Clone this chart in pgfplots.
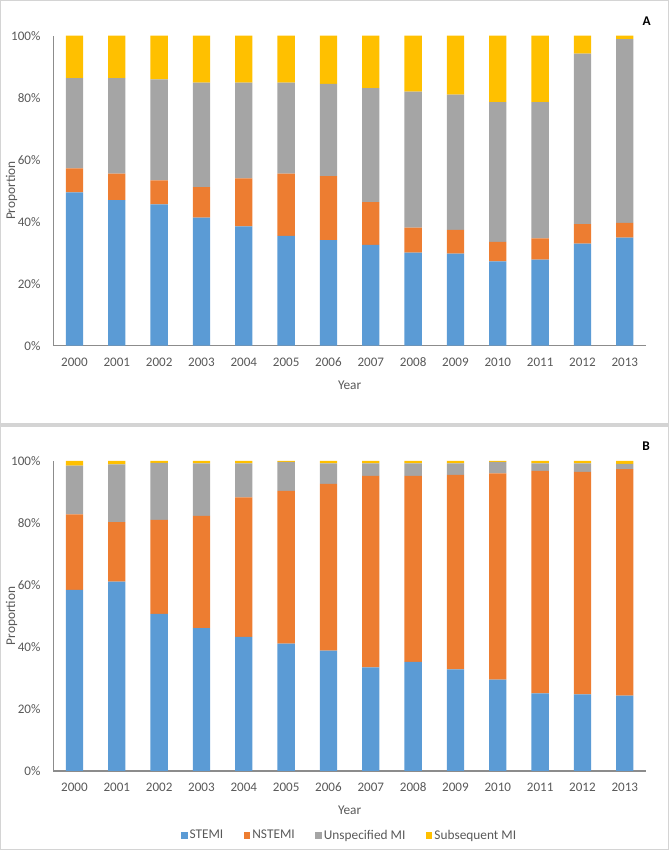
\documentclass[border=0pt]{standalone}
\usepackage{fontspec}
\setmainfont{Carlito}
\usepackage{pgfplots}
\usepackage{pgfplotstable}
\pgfplotsset{compat=1.18}

\definecolor{stemi}{HTML}{5B9BD5}
\definecolor{nstemi}{HTML}{ED7D31}
\definecolor{unspec}{HTML}{A5A5A5}
\definecolor{subseq}{HTML}{FFC000}
\definecolor{txt}{HTML}{595959}
\definecolor{axisgray}{HTML}{8C8C8C}
\definecolor{frame}{HTML}{D4D4D4}

% panel A, percent of each type
\pgfplotstableread{
x stemi nstemi unspec subseq
0  49.5  7.7 29.1 13.7
1  47.0  8.5 30.8 13.7
2  45.6  7.7 32.6 14.1
3  41.3  9.9 33.7 15.1
4  38.5 15.5 30.9 15.1
5  35.4 20.1 29.4 15.1
6  34.1 20.6 29.8 15.5
7  32.5 13.8 36.8 16.9
8  30.0  8.1 43.9 18.0
9  29.7  7.7 43.6 19.0
10 27.2  6.3 45.1 21.4
11 27.8  6.8 44.0 21.4
12 32.9  6.3 55.0  5.8
13 34.9  4.7 59.3  1.1
}\panelA

% panel B
\pgfplotstableread{
x stemi nstemi unspec subseq
0  58.4 24.4 15.7 1.5
1  61.1 19.2 18.6 1.1
2  50.7 30.3 18.4 0.6
3  46.1 36.2 16.9 0.8
4  43.3 45.0 10.9 0.8
5  41.1 49.3  9.3 0.3
6  38.8 53.8  6.6 0.8
7  33.4 61.8  4.0 0.8
8  35.2 60.0  4.0 0.8
9  32.8 62.7  3.7 0.8
10 29.5 66.5  3.7 0.3
11 25.0 71.8  2.4 0.8
12 24.7 71.8  2.7 0.8
13 24.3 73.1  1.7 0.9
}\panelB

\pgfplotsset{
  mibars/.style={
    ybar stacked, bar width=13pt,
    scale only axis, width=444.5pt, height=232.5pt,
    xmin=-0.5, xmax=13.5, ymin=0, ymax=100,
    clip=false,
    axis lines*=left,
    axis line style={color=axisgray, line width=0.9pt},
    major tick length=0pt,
    xtick={0,...,13},
    xticklabels={2000,2001,2002,2003,2004,2005,2006,2007,2008,2009,2010,2011,2012,2013},
    ytick={0,20,40,60,80,100},
    yticklabels={0\%,20\%,40\%,60\%,80\%,100\%},
    ticklabel style={font=\fontsize{9.8}{11}\selectfont, text=txt},
    xticklabel style={anchor=base, yshift=-15.75pt},
    yticklabel style={anchor=east, inner sep=0pt, xshift=-9.5pt},
    every axis plot/.append style={draw=none},
  }
}

\begin{document}
\begin{tikzpicture}[x=0.75pt, y=0.75pt]
\useasboundingbox (0,0) rectangle (669,850);
\draw[frame, line width=1.1pt] (0.75,426) rectangle (668.25,849.25);
\draw[frame, line width=1.1pt] (0.75,0.75) rectangle (668.25,424);

\begin{axis}[mibars, at={(39.98pt,378.2pt)}, anchor=south west]
  \addplot[fill=stemi] table[x=x, y=stemi] {\panelA};
  \addplot[fill=nstemi] table[x=x, y=nstemi] {\panelA};
  \addplot[fill=unspec] table[x=x, y=unspec] {\panelA};
  \addplot[fill=subseq] table[x=x, y=subseq] {\panelA};
  \node[font=\fontsize{10}{12}\selectfont, text=txt, anchor=base]
    at ([yshift=-32.9pt]axis description cs:0.5,0) {Year};
  \node[font=\fontsize{10}{12}\selectfont, text=txt, rotate=90]
    at ([xshift=-31.2pt]axis description cs:0,0.5) {Proportion};
\end{axis}

\begin{axis}[mibars, at={(39.98pt,59.25pt)}, anchor=south west,
  legend columns=4,
  legend style={at={(axis description cs:0.5,0)}, anchor=center, yshift=-48.5pt,
    draw=none, fill=none, inner sep=0pt,
    font=\fontsize{10}{12}\selectfont, text=txt,
    nodes={inner sep=1.5pt},
    /tikz/every even column/.append style={column sep=14pt}},
  legend image code/.code={\fill[#1] (0pt,-2.4pt) rectangle (4.8pt,2.4pt);},
]
  \addplot[fill=stemi] table[x=x, y=stemi] {\panelB};
  \addlegendentry{STEMI}
  \addplot[fill=nstemi] table[x=x, y=nstemi] {\panelB};
  \addlegendentry{NSTEMI}
  \addplot[fill=unspec] table[x=x, y=unspec] {\panelB};
  \addlegendentry{Unspecified MI}
  \addplot[fill=subseq] table[x=x, y=subseq] {\panelB};
  \addlegendentry{Subsequent MI}
  \node[font=\fontsize{10}{12}\selectfont, text=txt, anchor=base]
    at ([yshift=-32.9pt]axis description cs:0.5,0) {Year};
  \node[font=\fontsize{10}{12}\selectfont, text=txt, rotate=90]
    at ([xshift=-31.2pt]axis description cs:0,0.5) {Proportion};
\end{axis}

\node[font=\bfseries\fontsize{10}{12}\selectfont] at (646.7,829.3) {A};
\node[font=\bfseries\fontsize{10}{12}\selectfont] at (646,404) {B};
\end{tikzpicture}
\end{document}
